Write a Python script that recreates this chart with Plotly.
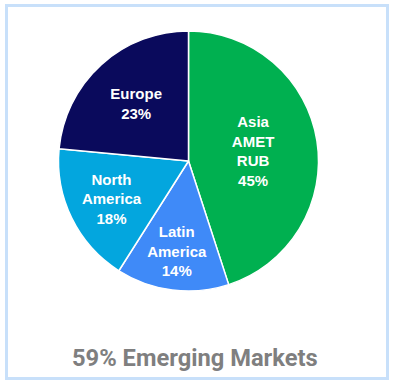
import plotly.graph_objects as go

regions = ["Asia<br>AMET<br>RUB", "Latin<br>America", "North<br>America", "Europe"]
shares = [45.0, 14.0, 17.5, 23.5]
pct_labels = ["45%", "14%", "18%", "23%"]
colors = ["#00b050", "#3f8af8", "#03a6de", "#0a0a5c"]
title_text = "59% Emerging Markets"

W, H = 394, 387
cx, cy, r = 188.5, 161, 130

fig = go.Figure(go.Pie(
    labels=regions,
    values=shares,
    text=[f"{a}<br>{b}" for a, b in zip(regions, pct_labels)],
    textinfo="text",
    texttemplate="<b>%{text}</b>",
    textposition="inside",
    insidetextorientation="horizontal",
    textfont=dict(family="Liberation Sans, Arial", size=15, color="white"),
    marker=dict(colors=colors, line=dict(color="white", width=1.5)),
    sort=False,
    direction="clockwise",
    rotation=0,
    hoverinfo="skip",
    domain=dict(x=[(cx - r) / W, (cx + r) / W], y=[1 - (cy + r) / H, 1 - (cy - r) / H]),
))

fig.update_layout(
    width=W, height=H,
    margin=dict(l=0, r=0, t=0, b=0),
    paper_bgcolor="white",
    showlegend=False,
    uniformtext=dict(minsize=15, mode="show"),
    shapes=[dict(type="rect", xref="paper", yref="paper",
                 x0=6.5 / W, x1=387.5 / W, y0=1 - 378.5 / H, y1=1 - 5.5 / H,
                 line=dict(color="#c8e0fa", width=3))],
    annotations=[dict(text=f"<b>{title_text}</b>", x=195 / W, y=1 - 358 / H,
                      xref="paper", yref="paper", showarrow=False,
                      xanchor="center", yanchor="middle",
                      font=dict(family="Roboto", size=23.7, color="#7f7f7f"))],
)

fig.write_html("out.html")
